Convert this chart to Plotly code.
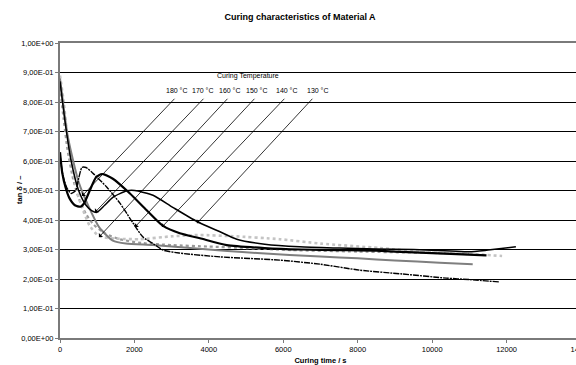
import plotly.graph_objects as go

# ---------------- data ----------------
t130 = [0, 150, 300, 500, 700, 850, 990, 1200, 1420, 1800, 2010, 2500, 3030, 3680, 4300, 4750, 5500, 6440, 7500, 8500, 9500, 10500, 11000, 11500, 12250]
y130 = [0.87, 0.72, 0.60, 0.50, 0.45, 0.432, 0.426, 0.45, 0.477, 0.499, 0.50, 0.484, 0.443, 0.395, 0.36, 0.335, 0.318, 0.309, 0.305, 0.302, 0.300, 0.295, 0.292, 0.298, 0.309]

t140 = [0, 60, 150, 250, 400, 550, 640, 800, 970, 1130, 1420, 1880, 2330, 2770, 3220, 3760, 4480, 5500, 6500, 7500, 8500, 9500, 10500, 11460]
y140 = [0.63, 0.56, 0.51, 0.475, 0.45, 0.445, 0.455, 0.50, 0.545, 0.556, 0.54, 0.49, 0.433, 0.38, 0.355, 0.338, 0.315, 0.305, 0.30, 0.298, 0.296, 0.29, 0.285, 0.28]

t150 = [0, 80, 180, 300, 420, 500, 590, 700, 890, 1260, 1610, 1960, 2230, 2500, 2770, 3200, 4300, 5900, 7000, 8050, 9200, 10380, 11000, 11800]
y150 = [0.62, 0.55, 0.51, 0.49, 0.50, 0.54, 0.578, 0.578, 0.558, 0.511, 0.457, 0.39, 0.342, 0.32, 0.298, 0.288, 0.275, 0.264, 0.25, 0.23, 0.217, 0.203, 0.198, 0.19]

t160 = [0, 100, 200, 300, 450, 600, 800, 1050, 1500, 2150, 3030, 3760, 4650, 5900, 7000, 8590, 9850, 11000, 11880]
y160 = [0.89, 0.80, 0.68, 0.60, 0.50, 0.44, 0.38, 0.345, 0.337, 0.335, 0.345, 0.349, 0.345, 0.335, 0.32, 0.305, 0.29, 0.285, 0.278]

t170 = [0, 100, 200, 350, 500, 700, 900, 1200, 1600, 2200, 3000, 4000, 5000, 6200, 8000, 10200, 11000]
y170 = [0.85, 0.74, 0.64, 0.54, 0.475, 0.42, 0.385, 0.355, 0.335, 0.322, 0.315, 0.31, 0.305, 0.298, 0.293, 0.288, 0.285]

t180 = [0, 100, 200, 300, 510, 780, 1050, 1420, 1770, 2500, 3500, 4500, 5300, 6170, 7000, 8000, 9000, 10200, 11090]
y180 = [0.88, 0.78, 0.69, 0.63, 0.525, 0.443, 0.376, 0.33, 0.32, 0.315, 0.305, 0.295, 0.288, 0.281, 0.276, 0.27, 0.263, 0.255, 0.25]

# annotation labels / arrows
temp_labels = ["180 °C", "170 °C", "160 °C", "150 °C", "140 °C", "130 °C"]
label_t = [3141, 3839, 4564, 5289, 6094, 6926]
label_y = [0.839] * 6
tail_t = [3114, 3893, 4537, 5262, 6067, 6819]
tail_y = [0.816] * 6
head_t = [590, 940, 1047, 2013, 2738, 3678]
head_y = [0.481, 0.426, 0.342, 0.376, 0.376, 0.389]

y_tickvals = [0, 0.1, 0.2, 0.3, 0.4, 0.5, 0.6, 0.7, 0.8, 0.9, 1.0]
y_ticktext = ["0,00E+00", "1,00E-01", "2,00E-01", "3,00E-01", "4,00E-01", "5,00E-01",
              "6,00E-01", "7,00E-01", "8,00E-01", "9,00E-01", "1,00E+00"]
x_tickvals = [0, 2000, 4000, 6000, 8000, 10000, 12000, 14000]
x_ticktext = ["0", "2000", "4000", "6000", "8000", "10000", "12000", "14000"]

FONT = "Liberation Sans, Arial, sans-serif"

series = [
    (t170, y170, dict(color="#9a9a9a", width=2.2, dash="dot")),
    (t160, y160, dict(color="#c4c4c4", width=2.6, dash="dot")),
    (t180, y180, dict(color="#7f7f7f", width=2.0)),
    (t130, y130, dict(color="black", width=1.5)),
    (t140, y140, dict(color="black", width=2.2)),
    (t150, y150, dict(color="black", width=1.4, dash="6px,1px,2px,1px")),
]

fig = go.Figure()
for tx, ty, ln in series:
    fig.add_trace(go.Scatter(x=tx, y=ty, mode="lines", line=dict(shape="spline", smoothing=0.6, **ln),
                             showlegend=False, hoverinfo="skip"))

annotations = []
annotations.append(dict(x=5047, y=0.887, xref="x", yref="y", text="Curing Temperature",
                        showarrow=False, font=dict(size=7, color="black", family=FONT)))
for lab, lx, ly in zip(temp_labels, label_t, label_y):
    annotations.append(dict(x=lx, y=ly, xref="x", yref="y", text=lab, showarrow=False,
                            font=dict(size=7, color="black", family=FONT)))
for hx, hy, tx_, ty_ in zip(head_t, head_y, tail_t, tail_y):
    annotations.append(dict(x=hx, y=hy, xref="x", yref="y", ax=tx_, ay=ty_, axref="x", ayref="y",
                            text="", showarrow=True, arrowhead=1, arrowsize=1.2, arrowwidth=0.8,
                            arrowcolor="black"))
annotations.append(dict(x=-47 / 521, y=0.5, xref="paper", yref="paper", textangle=-90,
                        text="<b>tan δ / –</b>", showarrow=False,
                        font=dict(size=7.5, color="black", family=FONT)))

# The original chart is wider than the window and gets cropped at its right edge
fig.update_layout(
    width=600, height=365,
    margin=dict(l=60, r=19, t=43, b=27),
    paper_bgcolor="white", plot_bgcolor="white",
    title=dict(text="<b>Curing characteristics of Material A</b>", x=0.5, xanchor="center",
               y=1 - 17 / 365, yanchor="middle", font=dict(size=9, color="black", family=FONT)),
    annotations=annotations,
    font=dict(family=FONT, color="black"),
)
fig.update_xaxes(range=[0, 14000], tickvals=x_tickvals, ticktext=x_ticktext, showgrid=False, zeroline=False,
                 showline=True, linecolor="#7a7a7a", linewidth=2, mirror=True,
                 ticks="outside", ticklen=3, tickcolor="#7a7a7a", tickwidth=1,
                 tickfont=dict(size=7.5, family=FONT, color="black"), automargin=False,
                 title=dict(text="<b>Curing time / s</b>", standoff=6,
                            font=dict(size=7.5, family=FONT, color="black")))
fig.update_yaxes(range=[0, 1.0], tickvals=y_tickvals, ticktext=y_ticktext,
                 showgrid=True, gridcolor="black", gridwidth=1, zeroline=False,
                 showline=True, linecolor="#7a7a7a", linewidth=2, automargin=False,
                 ticks="outside", ticklen=3, tickcolor="#7a7a7a", tickwidth=1,
                 tickfont=dict(size=7.5, family=FONT, color="black"))

fig.write_html("out.html", config={"displayModeBar": False},
               post_script="document.body.style.margin='0px';document.body.style.overflow='hidden';")
